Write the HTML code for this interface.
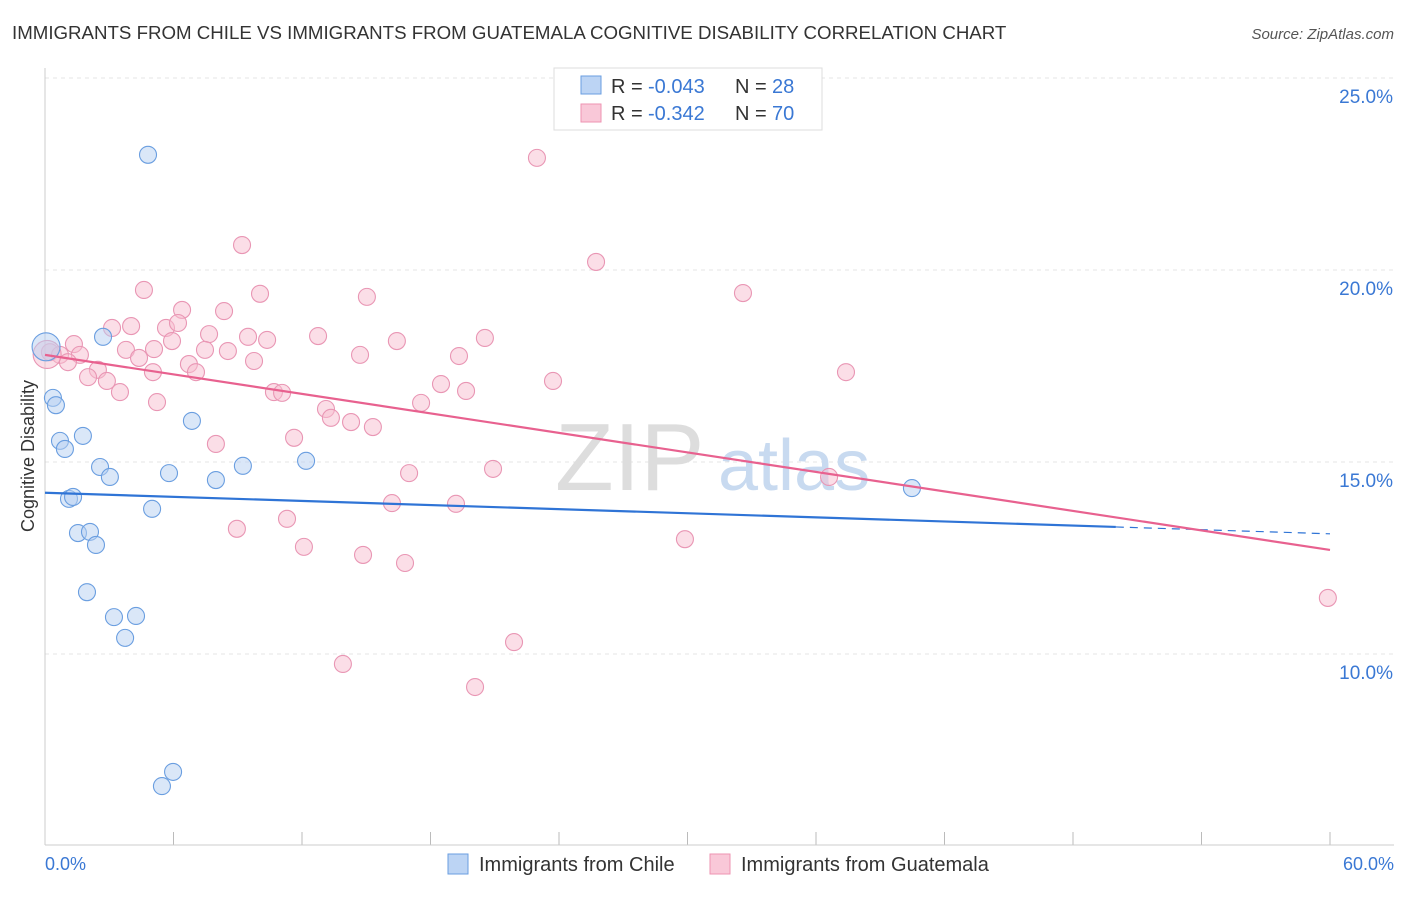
<!DOCTYPE html>
<html><head><meta charset="utf-8"><style>
body{margin:0;background:#fff;font-family:"Liberation Sans",sans-serif}
svg text{font-family:"Liberation Sans",sans-serif}
</style></head><body>
<svg width="1406" height="892">
<text x="12" y="39" font-size="18.7" fill="#333">IMMIGRANTS FROM CHILE VS IMMIGRANTS FROM GUATEMALA COGNITIVE DISABILITY CORRELATION CHART</text>
<text x="1394" y="39" font-size="15" fill="#555" font-style="italic" text-anchor="end">Source: ZipAtlas.com</text>
<g id="grid"></g>
<text x="555" y="490" font-size="96" fill="#ddd" font-family="Liberation Serif">ZIP</text>
<text x="718" y="490" font-size="72" fill="#c8daf0">atlas</text>
<line x1="45" y1="68" x2="45" y2="845" stroke="#ccc"/>
<line x1="45" y1="845" x2="1394" y2="845" stroke="#ccc"/>
<text transform="translate(34,456) rotate(-90)" font-size="18" fill="#333" text-anchor="middle">Cognitive Disability</text>
<text x="45" y="870" font-size="18" fill="#3a78d4">0.0%</text>
<text x="1394" y="870" font-size="18" fill="#3a78d4" text-anchor="end">60.0%</text>
<g id="marks"></g>
<g>
<rect x="554" y="68" width="268" height="62" fill="#fff" stroke="#ddd"/>
<rect x="581" y="76" width="20" height="18" fill="#bcd4f4" stroke="#6a9ee0"/>
<rect x="581" y="104" width="20" height="18" fill="#f9c8d8" stroke="#ee93b2"/>
<text x="611" y="93" font-size="20" fill="#333">R =</text>
<text x="648" y="93" font-size="20" fill="#3a78d4">-0.043</text>
<text x="735" y="93" font-size="20" fill="#333">N =</text>
<text x="772" y="93" font-size="20" fill="#3a78d4">28</text>
<text x="611" y="120" font-size="20" fill="#333">R =</text>
<text x="648" y="120" font-size="20" fill="#3a78d4">-0.342</text>
<text x="735" y="120" font-size="20" fill="#333">N =</text>
<text x="772" y="120" font-size="20" fill="#3a78d4">70</text>
</g>
<g><rect x="448" y="854" width="20" height="20" fill="#bcd4f4" stroke="#6a9ee0"/><text x="479" y="871" font-size="20" fill="#333">Immigrants from Chile</text></g>
<g><rect x="710" y="854" width="20" height="20" fill="#f9c8d8" stroke="#ee93b2"/><text x="741" y="871" font-size="20" fill="#333">Immigrants from Guatemala</text></g>
</svg>
<script>
const yTicks=[10,15,20,25];
const xTicks=[0,6,12,18,24,30,36,42,48,54,60];
const chileX=[4.81,0.05,0.37,0.51,2.71,0.70,0.93,1.77,2.57,3.03,1.12,1.31,5.79,7.98,9.24,6.86,12.19,5.00,1.54,2.10,2.38,1.96,3.22,4.25,3.74,5.98,5.46,40.48];
const chileY=[23.0,18.0,16.67,16.48,18.26,15.55,15.34,15.68,14.87,14.61,14.04,14.09,14.71,14.53,14.90,16.07,15.03,13.78,13.15,13.18,12.84,11.61,10.96,10.99,10.42,6.93,6.56,14.32];
const guatX=[22.97,9.20,25.73,4.62,10.04,15.03,32.59,6.40,8.36,3.13,4.02,5.65,6.21,7.66,9.48,10.37,12.75,16.43,20.54,1.35,1.63,3.78,5.09,4.39,5.93,7.47,8.54,9.76,14.71,19.33,0.23,0.70,1.07,2.47,2.01,2.89,3.50,5.04,6.72,7.05,23.72,18.49,19.66,10.69,11.07,17.56,5.23,13.12,13.35,14.29,15.31,7.98,11.63,37.40,17.00,20.92,16.20,19.19,36.61,8.96,11.30,12.09,14.85,16.81,29.88,21.90,13.91,20.08,59.90,0.1];
const guatY=[22.92,20.65,20.21,19.48,19.38,19.30,19.40,18.96,18.93,18.49,18.54,18.49,18.62,18.33,18.26,18.18,18.28,18.15,18.23,18.07,17.79,17.92,17.94,17.71,18.15,17.92,17.89,17.63,17.79,17.76,17.86,17.79,17.60,17.40,17.21,17.11,16.82,17.34,17.55,17.34,17.11,17.03,16.85,16.82,16.80,16.54,16.56,16.38,16.15,16.04,15.91,15.47,15.63,17.34,14.71,14.82,13.93,13.91,14.61,13.26,13.52,12.79,12.58,12.37,12.99,10.31,9.74,9.14,11.46,17.8];
const chileTrend=[14.2,13.13];
const guatTrend=[17.79,12.71];
const X=v=>45+v/60*1285, Y=v=>78+(25-v)*38.4;
const NS='http://www.w3.org/2000/svg';
const grid=document.getElementById('grid'), marks=document.getElementById('marks');
function mk(tag,at,p){const e=document.createElementNS(NS,tag);for(const k in at)e.setAttribute(k,at[k]);p.appendChild(e);return e;}
yTicks.forEach(t=>{
 const l=mk('line',{x1:45,x2:1394,y1:Y(t),y2:Y(t),stroke:'#e4e4e4','stroke-dasharray':'4,4'},grid);
 
 
 const tx=mk('text',{x:1393,y:Y(t)+25,'font-size':19,fill:'#3a78d4','text-anchor':'end'},grid);tx.textContent=t.toFixed(1)+'%';
 
 
});
xTicks.forEach(t=>{
 const l=mk('line',{x1:X(t),x2:X(t),y1:832,y2:845,stroke:'#bbb'},grid);
 
 
});
function pts(xs,ys,fill,stroke,name){
 xs.forEach((x,i)=>{
  const big=(x<0.15);
  const c=mk('circle',{cx:X(x),cy:Y(ys[i]),r:big?14:8.5,fill:fill,'fill-opacity':0.5,stroke:stroke,'stroke-width':1.1},marks);
  
  
 });
}
pts(guatX,guatY,'#f7bdd0','#e996b4','guatemala-point');
pts(chileX,chileY,'#b5cff2','#6a9ee0','chile-point');
let l=mk('line',{x1:X(0),y1:Y(chileTrend[0]),x2:X(50),y2:Y(chileTrend[0]+(chileTrend[1]-chileTrend[0])*50/60),stroke:'#2f74d6','stroke-width':2.2},marks);


l=mk('line',{x1:X(50),y1:Y(chileTrend[0]+(chileTrend[1]-chileTrend[0])*50/60),x2:X(60),y2:Y(chileTrend[1]),stroke:'#2f74d6','stroke-width':1.2,'stroke-dasharray':'8,6'},marks);


l=mk('line',{x1:X(0),y1:Y(guatTrend[0]),x2:X(60),y2:Y(guatTrend[1]),stroke:'#e8618f','stroke-width':2.2},marks);


</script>
</body></html>
